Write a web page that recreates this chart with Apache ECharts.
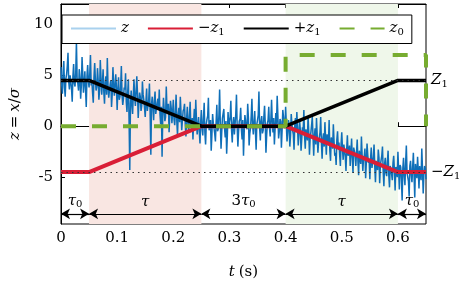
<!DOCTYPE html>
<html><head><meta charset="utf-8">
<script src="https://cdn.jsdelivr.net/npm/echarts@6/dist/echarts.min.js"></script>
<style>html,body{margin:0;padding:0;background:#fff}#c{width:464px;height:285px}</style>
</head><body><div id="c"></div>
<script>
// ---- data ----
const dt = 0.00125; // sample spacing of the noisy trace (s)
const zNoise = [
 5.8, 4.1, 3.2, 5.3, 6.4, 3.8, 2.9, 4.7, 5.1, 5.9, 7.2, 4.4, 3.6, 5.0, 4.9, 3.7, 2.4, 4.9, 6.1, 4.2,
 3.9, 5.2, 8.3, 4.6, 4.2, 3.5, 5.6, 4.8, 2.7, 4.0, 6.8, 5.1, 3.3, 4.3, 5.4, 3.6, 1.9, 4.9, 6.0, 4.5,
 3.8, 5.1, 7.0, 4.0, 4.4, 3.3, 2.3, 4.8, 6.2, 4.6, 3.5, 3.9, 5.7, 4.5, 2.6, 3.6, 6.5, 4.7, 3.1, 4.2,
 5.6, 3.4, 2.2, 4.3, 4.9, 3.1, 6.7, 4.0, 2.8, 3.5, 4.1, 4.5, 1.9, 3.2, 5.8, 4.1, 3.0, 2.9, 5.1, 3.8,
 1.6, 3.5, 4.8, 2.6, 2.9, 3.9, 5.9, 3.0, 2.1, 2.7, 3.8, 3.6, 5.2, 2.4, 1.4, 3.3, 4.6, 0.5, -4.3, 2.2,
 3.5, 2.1, 1.2, 3.0, 4.6, 2.8, 2.0, 1.9, 4.9, 3.2, 0.8, 2.3, 3.3, 2.9, 1.5, 2.0, 4.4, 3.1, 2.6, 1.8,
 0.9, 2.4, 3.7, 1.5, 1.6, 2.6, 4.2, 1.3, -2.8, 2.2, 2.9, 1.8, 0.6, 2.5, 3.4, 1.2, 1.1, 2.3, 2.7, 1.6,
 3.6, 1.2, 0.2, 1.9, -3.0, 1.0, 2.8, 1.7, 0.5, 0.9, 3.9, 1.6, 1.4, 2.2, -0.6, 1.1, 2.5, 1.8, 0.3, 1.3,
 2.6, 0.7, 0.1, 1.4, 3.1, 0.5, -0.9, 1.2, 1.8, 0.4, 2.9, 1.3, -0.4, 0.6, 1.5, 1.7, 2.2, 0.2, -1.0, 0.8,
 1.9, 0.3, -0.6, 1.0, 2.4, -0.2, 0.2, 0.8, -1.3, 0.5, 1.7, -0.4, 2.6, 0.6, -0.8, 0.1, 0.9, -0.5, -1.7, 0.4,
 1.6, -0.3, -0.9, 0.8, 2.3, -0.6, -1.8, 0.2, 0.7, 1.0, 2.8, -0.4, -0.5, 0.6, -2.4, -0.8, 1.2, 0.3, 0.3, -0.7,
 -1.5, 0.4, 2.1, -0.5, -0.3, 1.1, 3.6, 0.2, -2.2, -0.6, 0.8, 0.9, 1.7, -0.2, -1.1, 0.5, -2.7, -0.9, 1.4, 0.1,
 0.2, 0.9, 2.5, -0.4, -1.6, 0.3, 0.9, -0.8, -0.7, 1.2, 3.1, 0.0, -2.0, -0.5, 0.5, 0.7, 1.8, -0.3, -1.3, 0.6,
 -2.9, -0.6, 1.1, 0.5, 0.4, -0.3, 2.2, 0.8, -1.9, -0.7, -0.2, 1.0, 2.7, 0.1, -0.8, 0.4, 1.5, -0.5, -2.3, 0.2,
 0.6, 1.1, 3.4, -0.2, -1.4, 0.5, 1.0, -0.7, -0.4, 0.9, 2.0, 0.3, -2.6, -0.9, 0.3, 0.6, 1.9, -0.1, -1.0, 0.7,
 2.6, 0.4, -0.6, 0.8, -1.8, -0.3, 1.3, 0.2, 3.0, 1.0, -1.2, -0.5, 0.7, 0.5, -2.1, -0.4, 1.6, 0.9, 0.1, -0.2,
 1.9, 0.3, -1.5, -0.6, 0.6, 0.1, -2.0, -0.9, 1.2, 0.2, -0.4, -0.8, -2.3, 0.0, 0.8, -0.5, 1.4, -0.1, -1.9, -0.7,
 0.5, -0.4, -2.4, -1.2, -0.1, -0.5, 1.6, -1.0, -2.2, -0.3, -0.3, -1.4, 1.0, -0.6, -2.8, -1.1, -0.6, 0.1, 0.9, -0.9,
 -2.9, -1.0, -0.2, -1.8, 0.8, -0.9, -2.6, -1.5, -1.1, -0.6, 0.9, -1.6, -3.2, -1.2, -0.7, -2.0, 0.4, -1.3, -2.8, -0.8,
 -0.8, -1.7, 0.6, -2.4, -3.4, -1.1, -1.4, -2.2, 0.2, -1.5, -2.9, -2.6, -3.8, -1.3, -0.5, -2.1, -1.6, -2.8, -3.9, -1.8,
 -0.6, -2.2, -3.3, -1.8, -1.9, -3.0, -4.4, -2.3, -0.9, -2.9, -2.7, -1.9, -3.9, -2.6, -1.2, -3.1, -4.6, -2.1, -2.0, -2.8,
 -3.9, -2.6, -1.3, -3.4, -4.8, -2.4, -2.5, -3.7, -1.0, -2.9, -4.4, -3.2, -3.0, -2.2, -5.1, -3.5, -1.7, -2.8, -3.6, -3.3,
 -5.2, -3.2, -2.1, -4.1, -4.0, -3.0, -1.8, -3.9, -5.5, -3.4, -3.3, -4.3, -2.3, -3.1, -5.6, -3.8, -3.7, -2.9, -2.0, -4.4,
 -5.9, -3.7, -3.1, -4.6, -4.9, -3.5, -2.4, -4.8, -6.0, -3.9, -3.8, -4.7, -5.3, -3.6, -2.9, -4.4, -6.3, -4.0, -4.2, -5.0,
 -2.5, -4.3, -6.2, -3.8, -4.0, -5.2, -7.3, -4.1, -3.1, -4.9, -5.8, -3.6, -1.9, -4.6, -5.0, -5.4, -6.9, -3.9, -3.4, -4.8,
 -5.5, -4.0, -2.6, -4.9, -7.0, -3.7, -4.3, -5.1, -3.0, -4.4, -6.1, -3.9, -4.8, -5.3, -2.2, -4.2, -6.6, -4.7, -3.9, -4.1, -5.2
];
const lineT     = [0, 0.05, 0.25, 0.4, 0.6, 0.65];
const minusZ1   = [-4.5, -4.5, 0, 0, -4.5, -4.5];
const plusZ1    = [4.5, 4.5, 0, 0, 4.5, 4.5];
const z0T       = [0, 0.4, 0.4, 0.65, 0.65];
const z0Vals    = [0, 0, 7, 7, 0];
const Z1 = 4.5;
const shadePink  = [0.05, 0.25];
const shadeGreen = [0.4, 0.6];
const arrowBounds = [0, 0.05, 0.25, 0.4, 0.6, 0.65];
const arrowLabels = ['{i|τ}{s|0}', '{i|τ}', '{n|3}{i|τ}{s|0}', '{i|τ}', '{i|τ}{s|0}'];
const arrowLevel = -8.6;
const xTicks = [0, 0.1, 0.2, 0.3, 0.4, 0.5, 0.6];
const yTicks = [-5, 0, 5, 10];

// ---- chart ----
const F = 'DejaVu Serif';
const rich = {
  i: {fontStyle: 'italic', fontFamily: F, fontSize: 15, color: '#000'},
  n: {fontFamily: F, fontSize: 15, color: '#000'},
  s: {fontFamily: F, fontSize: 10, color: '#000', verticalAlign: 'bottom', padding: [8, 0, 0, 0]}
};
const legendText = {'z': '{i|z}', '-z1': '{n|−}{i|z}{s|1}', '+z1': '{n|+}{i|z}{s|1}', 'z0': '{i|z}{s|0}'};

const zip = (a, b) => a.map((v, k) => [v, b[k]]);
const arrowLines = [];
for (let k = 0; k < arrowLabels.length; k++) {
  arrowLines.push([
    {coord: [arrowBounds[k], arrowLevel]},
    {coord: [arrowBounds[k + 1], arrowLevel], label: {formatter: arrowLabels[k]}}
  ]);
}
const noInk = {color: 'rgba(0,0,0,0)', borderColor: 'rgba(0,0,0,0)', borderWidth: 0};

const chart = echarts.init(document.getElementById('c'), null, {renderer: 'canvas'});
chart.setOption({
  animation: false,
  textStyle: {fontFamily: F},
  grid: {left: 49, right: 38, top: 4, bottom: 53, show: true, borderColor: '#000', borderWidth: 1, backgroundColor: 'transparent'},
  legend: {
    left: 62, top: 15, orient: 'horizontal',
    backgroundColor: '#fff', borderColor: '#000', borderWidth: 1, borderRadius: 0,
    padding: [6, 8, 6, 8], itemWidth: 45, itemHeight: 14, itemGap: 18,
    itemStyle: noInk,
    textStyle: {rich: rich, fontFamily: F, fontSize: 15, color: '#000'},
    formatter: name => legendText[name],
    data: [
      {name: 'z', lineStyle: {color: '#a9d1ee', width: 2}, itemStyle: noInk},
      {name: '-z1', itemStyle: noInk}, {name: '+z1', itemStyle: noInk}, {name: 'z0', itemStyle: noInk}
    ]
  },
  xAxis: [{
    type: 'value', min: 0, max: 0.65, position: 'bottom',
    axisLine: {show: true, lineStyle: {color: '#000'}},
    axisTick: {inside: true, length: 4, customValues: xTicks, lineStyle: {color: '#000'}},
    axisLabel: {customValues: xTicks, fontFamily: F, fontSize: 15, color: '#000', margin: 7,
      formatter: v => (v === 0 ? '0' : v.toFixed(1))},
    splitLine: {show: false},
    name: '{i|t} {n|(s)}', nameLocation: 'middle', nameGap: 41,
    nameTextStyle: {rich: rich, fontFamily: F}
  }, {
    type: 'value', min: 0, max: 0.65, position: 'top',
    axisLine: {show: true, lineStyle: {color: '#000'}},
    axisTick: {inside: true, length: 4, customValues: xTicks, lineStyle: {color: '#000'}},
    axisLabel: {show: false}, splitLine: {show: false}
  }],
  yAxis: {
    type: 'value', min: -9.6, max: 12,
    axisLine: {show: true, lineStyle: {color: '#000'}},
    axisTick: {inside: true, length: 4, customValues: yTicks, lineStyle: {color: '#000'}},
    axisLabel: {customValues: yTicks, fontFamily: F, fontSize: 15, color: '#000', margin: 8,
      formatter: v => (v < 0 ? '-' + Math.abs(v) : '' + v)},
    splitLine: {show: false},
    name: '{i|z} {n|=} {i|x}{n|/}{i|σ}', nameLocation: 'middle', nameGap: 23, nameRotate: 90,
    nameTextStyle: {rich: rich, fontFamily: F}
  },
  series: [
    {
      name: 'annot', type: 'line', data: [], silent: true,
      markArea: {silent: true, data: [
        [{xAxis: shadePink[0], itemStyle: {color: '#f9e6e2'}}, {xAxis: shadePink[1]}],
        [{xAxis: shadeGreen[0], itemStyle: {color: '#eff7ea'}}, {xAxis: shadeGreen[1]}]
      ]},
      markLine: {silent: true, symbol: ['arrow', 'arrow'], symbolSize: [8, 9],
        lineStyle: {color: '#000', width: 1.2, type: 'solid'},
        label: {position: 'middle', distance: 4, rich: rich, color: '#000'},
        data: arrowLines}
    },
    {
      name: 'z', type: 'line', symbol: 'none', data: zNoise.map((v, k) => [k * dt, v]),
      lineStyle: {color: '#0f6fb8', width: 1.5, opacity: 1}, z: 2,
      markLine: {silent: true, symbol: ['none', 'none'],
        lineStyle: {color: '#333', width: 1, type: [1.5, 4]},
        label: {position: 'end', distance: 5, rich: rich},
        data: [
          {yAxis: Z1, label: {formatter: '{i|Z}{s|1}'}},
          {yAxis: -Z1, label: {formatter: '{n|−}{i|Z}{s|1}'}}
        ]}
    },
    {name: '-z1', type: 'line', symbol: 'none', data: zip(lineT, minusZ1),
      lineStyle: {color: '#d91e36', width: 4}, itemStyle: {color: '#d91e36'}, z: 3},
    {name: '+z1', type: 'line', symbol: 'none', data: zip(lineT, plusZ1),
      lineStyle: {color: '#000', width: 3.5}, itemStyle: {color: '#000'}, z: 4},
    {name: 'z0', type: 'line', symbol: 'none', data: zip(z0T, z0Vals),
      lineStyle: {color: '#77ac30', width: 4, type: [15, 16], cap: 'butt'}, itemStyle: {color: '#77ac30'}, z: 5}
  ]
});
</script></body></html>
